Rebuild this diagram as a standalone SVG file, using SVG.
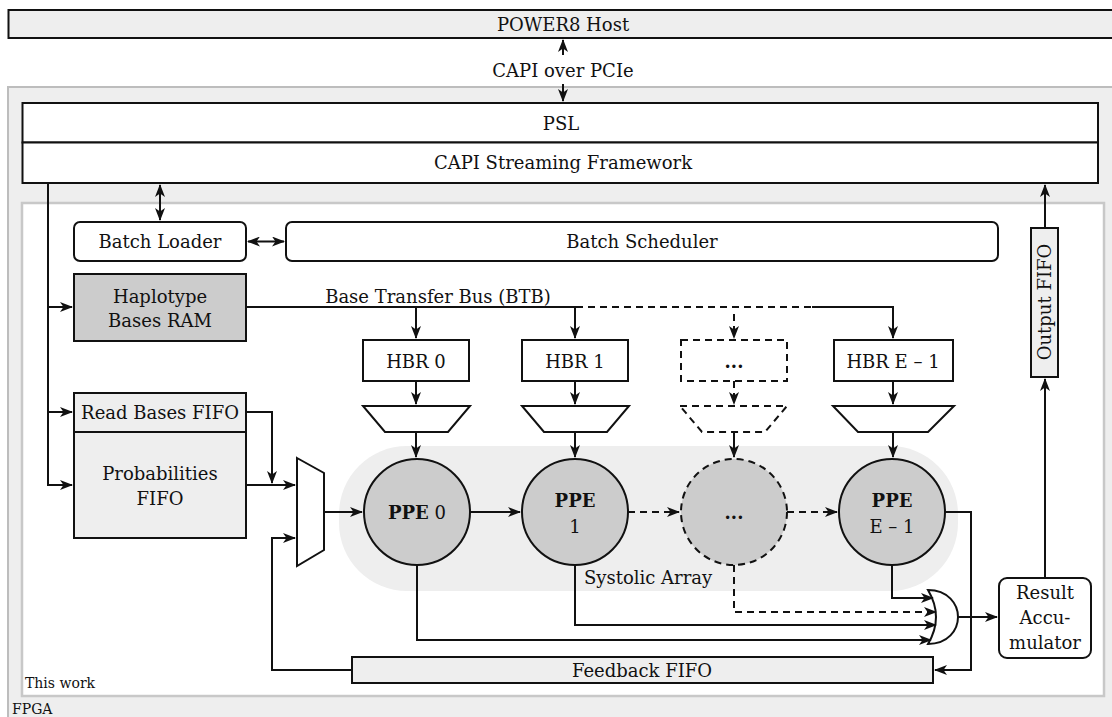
<svg xmlns="http://www.w3.org/2000/svg" width="1112" height="717" viewBox="0 0 1112 717">
  <style>
    .t { font-family: "DejaVu Serif", "Liberation Serif", serif; font-size: 18px; text-anchor: middle; dominant-baseline: central; fill: #111; }
    .b { font-weight: bold; }
    .sm { font-size: 14px; text-anchor: start; }
    .box { fill: #ffffff; stroke: #111; stroke-width: 2; }
    .grey { fill: #eeeeee; stroke: #111; stroke-width: 2; }
    .dark { fill: #cccccc; stroke: #111; stroke-width: 2; }
    .dbox { fill: #ffffff; stroke: #111; stroke-width: 2; stroke-dasharray: 7 5; }
    .ln { fill: none; stroke: #111; stroke-width: 2; }
    .arr { marker-end: url(#ah); }
    .dash { stroke-dasharray: 7 5; }
  </style>
  <defs>
    <marker id="ah" markerUnits="userSpaceOnUse" markerWidth="13" markerHeight="10" refX="12" refY="5" orient="auto-start-reverse">
      <path d="M0,0 L13,5 L0,10 L3.5,5 Z" fill="#111"/>
    </marker>
  </defs>

  <!-- host -->
  <g id="host">
    <rect x="8.5" y="10" width="1120" height="28" class="grey"/>
    <text x="563" y="24" class="t">POWER8 Host</text>
  </g>

  <!-- FPGA frame -->
  <g id="fpga">
    <rect x="8" y="87" width="1120" height="640" fill="#eeeeee" stroke="#bdbdbd" stroke-width="2"/>
    <text x="12" y="709" class="t sm">FPGA</text>
  </g>

  <!-- this work frame -->
  <g id="this-work">
    <rect x="22" y="203" width="1082" height="493" fill="#ffffff" stroke="#c8c8c8" stroke-width="2.5"/>
    <text x="25" y="683" class="t sm">This work</text>
  </g>

  <!-- systolic array background -->
  <g id="systolic-array">
    <rect x="339" y="446" width="619" height="145" rx="68" fill="#eeeeee"/>
    <text x="584" y="577" class="t" style="text-anchor:start">Systolic Array</text>
  </g>

  <g id="psl">
    <rect x="22.5" y="103" width="1075.5" height="39.5" class="box"/>
    <text x="561" y="123" class="t">PSL</text>
  </g>
  <g id="csf">
    <rect x="22.5" y="142.5" width="1075.5" height="40.5" class="box"/>
    <text x="563" y="162" class="t">CAPI Streaming Framework</text>
  </g>

  <text x="563" y="70" class="t">CAPI over PCIe</text>

  <g id="batch-loader">
    <rect x="74" y="222" width="172" height="39" rx="6" class="box"/>
    <text x="160" y="241.5" class="t">Batch Loader</text>
  </g>
  <g id="batch-scheduler">
    <rect x="286" y="222" width="712" height="39" rx="6" class="box"/>
    <text x="642" y="241.5" class="t">Batch Scheduler</text>
  </g>

  <g id="haplotype-ram">
    <rect x="74" y="274" width="172" height="67" class="dark"/>
    <text x="160" y="296" class="t">Haplotype</text>
    <text x="160" y="320" class="t">Bases RAM</text>
  </g>

  <g id="read-bases-fifo">
    <rect x="74" y="393" width="172" height="39" class="grey"/>
    <text x="160" y="412.5" class="t">Read Bases FIFO</text>
  </g>
  <g id="prob-fifo">
    <rect x="74" y="432" width="172" height="106" class="grey"/>
    <text x="160" y="473" class="t">Probabilities</text>
    <text x="160" y="498" class="t">FIFO</text>
  </g>

  <!-- HBR registers -->
  <g id="hbr0">
    <rect x="363" y="340" width="106" height="41" class="box"/>
    <text x="416" y="361" class="t">HBR 0</text>
  </g>
  <g id="hbr1">
    <rect x="522" y="340" width="106" height="41" class="box"/>
    <text x="575" y="361" class="t">HBR 1</text>
  </g>
  <g id="hbr-dots">
    <rect x="681" y="340" width="106" height="41" class="dbox"/>
    <text x="734" y="361" class="t b">...</text>
  </g>
  <g id="hbr-last">
    <rect x="834" y="340" width="119" height="41" class="box"/>
    <text x="893" y="361" class="t">HBR E – 1</text>
  </g>

  <!-- shift selectors -->
  <g id="sel0"><polygon points="363,406 470,406 448,432 385,432" class="box"/></g>
  <g id="sel1"><polygon points="522,406 629,406 607,432 544,432" class="box"/></g>
  <g id="sel-dots"><polygon points="680,406 787,406 765,432 702,432" class="dbox"/></g>
  <g id="sel-last"><polygon points="833,406 954,406 928,432 858,432" class="box"/></g>

  <!-- input mux -->
  <g id="mux"><polygon points="297,458 324,473 324,550 297,566" class="box"/></g>

  <!-- processing elements -->
  <g id="ppe0">
    <circle cx="417" cy="512" r="53" class="dark"/>
    <text x="417" y="512" class="t"><tspan class="b">PPE</tspan> 0</text>
  </g>
  <g id="ppe1">
    <circle cx="575" cy="512" r="53" class="dark"/>
    <text x="575" y="500" class="t b">PPE</text>
    <text x="575" y="526" class="t">1</text>
  </g>
  <g id="ppe-dots">
    <circle cx="734" cy="512" r="53" fill="#cccccc" stroke="#111" stroke-width="2" stroke-dasharray="7 5"/>
    <text x="734" y="512" class="t b">...</text>
  </g>
  <g id="ppe-last">
    <circle cx="892" cy="512" r="53" class="dark"/>
    <text x="892" y="500" class="t b">PPE</text>
    <text x="892" y="526" class="t">E – 1</text>
  </g>

  <!-- result OR gate -->
  <g id="or-gate">
    <path d="M928,590 C948,590 958,604 958,617 C958,630 948,644 928,644 Q944,617 928,590 Z" class="box"/>
  </g>

  <g id="result-acc">
    <rect x="999" y="578" width="92" height="80" rx="8" class="box"/>
    <text x="1045" y="592" class="t">Result</text>
    <text x="1045" y="617" class="t">Accu-</text>
    <text x="1045" y="642" class="t">mulator</text>
  </g>

  <g id="output-fifo">
    <rect x="1031" y="228" width="27" height="149" class="grey"/>
    <text x="1044.5" y="302" class="t" transform="rotate(-90 1044.5 302)">Output FIFO</text>
  </g>

  <g id="feedback-fifo">
    <rect x="352" y="657" width="581" height="26" class="grey"/>
    <text x="642" y="670" class="t">Feedback FIFO</text>
  </g>

  <!-- connectors -->
  <g id="connectors">
    <path d="M563,55 V40" class="ln arr"/>
    <path d="M563,84 V101" class="ln arr"/>

    <path d="M48,183 V485 H72" class="ln arr"/>
    <path d="M48,307 H72" class="ln arr"/>
    <path d="M48,412 H72" class="ln arr"/>

    <path d="M160,185 V220" class="ln" marker-start="url(#ah)" marker-end="url(#ah)"/>
    <path d="M248,241.5 H284" class="ln" marker-start="url(#ah)" marker-end="url(#ah)"/>

    <!-- base transfer bus -->
    <text x="438" y="296" class="t">Base Transfer Bus (BTB)</text>
    <path d="M246,307 H576" class="ln"/>
    <path d="M576,307 H812" class="ln dash"/>
    <path d="M812,307 H893 V338" class="ln arr"/>
    <path d="M416,307 V338" class="ln arr"/>
    <path d="M575,307 V338" class="ln arr"/>
    <path d="M734,314 V338" class="ln dash arr"/>

    <path d="M416,381 V404" class="ln arr"/>
    <path d="M575,381 V404" class="ln arr"/>
    <path d="M734,381 V404" class="ln dash arr"/>
    <path d="M893,381 V404" class="ln arr"/>

    <path d="M416,432 V457" class="ln arr"/>
    <path d="M575,432 V457" class="ln arr"/>
    <path d="M734,432 V457" class="ln arr"/>
    <path d="M893,432 V457" class="ln arr"/>

    <!-- mux inputs and output -->
    <path d="M246,485 H295" class="ln arr"/>
    <path d="M246,412 H272 V483" class="ln arr"/>
    <path d="M352,670 H272 V538 H295" class="ln arr"/>
    <path d="M324,512 H362" class="ln arr"/>

    <!-- systolic chain -->
    <path d="M470,512 H520" class="ln arr"/>
    <path d="M628,512 H679" class="ln dash arr"/>
    <path d="M787,512 H837" class="ln dash arr"/>

    <!-- results to OR gate -->
    <path d="M892,565 V598 H933" class="ln arr"/>
    <path d="M734,565 V612 H936" class="ln dash arr"/>
    <path d="M575,565 V625 H936" class="ln arr"/>
    <path d="M417,565 V640 H931" class="ln arr"/>
    <path d="M958,617 H997" class="ln arr"/>

    <!-- feedback -->
    <path d="M945,512 H971 V670 H935" class="ln arr"/>

    <!-- output path -->
    <path d="M1045,578 V379" class="ln arr"/>
    <path d="M1045,228 V185" class="ln arr"/>
  </g>
</svg>
